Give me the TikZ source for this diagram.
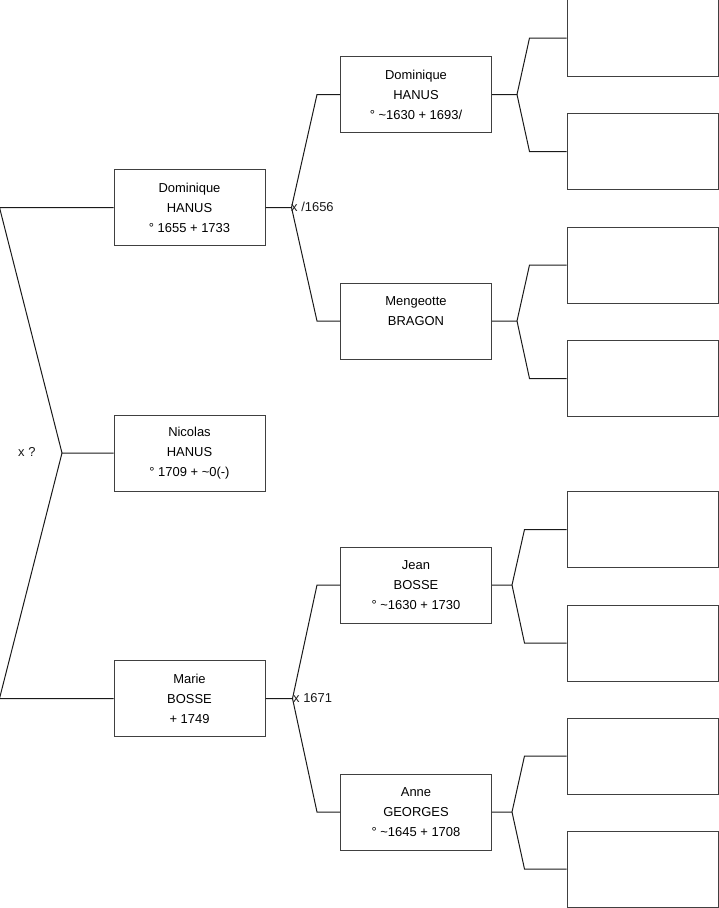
\documentclass[tikz,border=0pt]{standalone}
\usepackage{fontspec}
\setmainfont{Liberation Sans}
\definecolor{frame}{HTML}{404040}
\definecolor{ink}{HTML}{1A1A1A}

\begin{document}
\begin{tikzpicture}[x=1bp,y=-1bp,font=\fontsize{13}{20}\selectfont,
 person/.style={draw=frame,fill=white,line width=1bp,minimum width=151bp,minimum height=76bp,inner sep=0pt,align=center},
 link/.style={draw=ink,line width=1bp},
 wed/.style={anchor=west,inner sep=0pt,text=ink}]
\path[use as bounding box] (0,0) rectangle (719,908);
% generation 0 and 1
\node[person] (nicolas) at (189.5,453) {Nicolas\\HANUS\\° 1709 + \textasciitilde0(-)};
\node[person] (dom1) at (189.5,207.5) {Dominique\\HANUS\\° 1655 + 1733};
\node[person] (marie) at (189.5,698.5) {Marie\\BOSSE\\+ 1749};
% generation 2
\node[person] (dom2) at (416,94.5) {Dominique\\HANUS\\° \textasciitilde1630 + 1693/};
\node[person] (meng) at (416,321) {Mengeotte\\BRAGON\\\mbox{}};
\node[person] (jean) at (416,585) {Jean\\BOSSE\\° \textasciitilde1630 + 1730};
\node[person] (anne) at (416,812) {Anne\\GEORGES\\° \textasciitilde1645 + 1708};
% generation 3, left empty
\foreach \n/\y in {a/38,b/151.5,c/265,d/378.5,e/529.5,f/643,g/756,h/869}
 \node[person] (g3\n) at (642.5,\y) {};
% parents of Nicolas
\coordinate (root) at (62,453);
\draw[link] (dom1.west) -- ++(-114,0) -- (root) -- (nicolas.west);
\draw[link] (marie.west) -- ++(-114,0) -- (root);
\node[wed] (w0) at (18,452) {x ?};
% parents of generation 1
\foreach \p/\a/\b/\s in {dom1/dom2/meng/26,marie/jean/anne/27} {
 \draw[link] (\p.east) -- ++(\s,0) -- ([xshift=-23bp]\a.west) -- (\a.west);
 \draw[link] ([xshift=\s bp]\p.east) -- ([xshift=-23bp]\b.west) -- (\b.west);
}
\node[wed] (w1) at (291,207) {x /1656};
\node[wed] (w2) at (293,698) {x 1671};
% parents of generation 2
\foreach \p/\a/\b/\s/\e in {dom2/g3a/g3b/25/37,meng/g3c/g3d/25/37,jean/g3e/g3f/20/42,anne/g3g/g3h/20/42} {
 \draw[link] (\p.east) -- ++(\s,0) -- ([xshift=-\e bp]\a.west) -- (\a.west);
 \draw[link] ([xshift=\s bp]\p.east) -- ([xshift=-\e bp]\b.west) -- (\b.west);
}
\end{tikzpicture}
\end{document}
